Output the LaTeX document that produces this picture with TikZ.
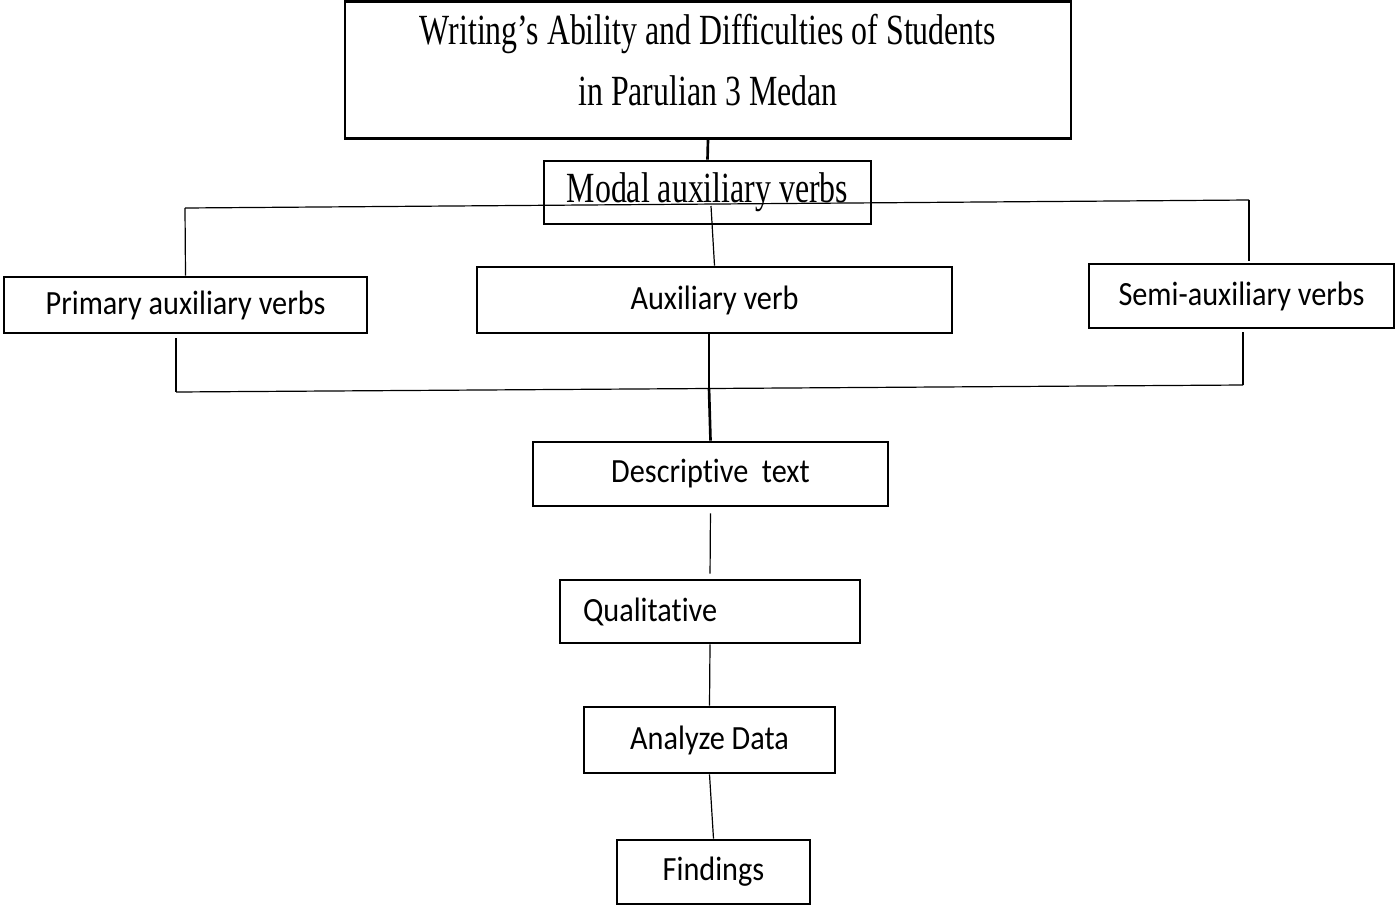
\documentclass[tikz,border=0pt]{standalone}
\usepackage{fontspec}
\usepackage{graphicx}
\usepackage{tikz}
\setmainfont{Liberation Serif}
\setsansfont{Carlito}[RawFeature=-liga,RawFeature=-clig,RawFeature=-calt,RawFeature=-dlig]
\usetikzlibrary{calc, positioning}

\newlength\pxu
\setlength\pxu{0.75pt}
\newcommand{\sertext}[1]{\scalebox{1}[1.35]{#1}}
\newcommand{\santext}[1]{\scalebox{1}[1.12]{#1}}

\begin{document}
\begin{tikzpicture}[-,x=0.75pt,y=-0.75pt,
                    box/.style={rectangle,draw,line width=2.1pt,inner sep=0pt},
                    serif node/.style={box,font=\fontsize{23.9}{45.75}\selectfont},
                    sans node/.style={box,font=\sffamily\fontsize{22.7}{27}\selectfont},
                    link/.style={line width=0.9pt},
                    trunk/.style={line width=2pt}]

 \useasboundingbox (0,0) rectangle (1395,907);

 \node[serif node,minimum width=726\pxu,minimum height=136\pxu] (title) at (708,70)
   {\begin{tabular}{c}\sertext{Writing’s Ability and Difficulties of Students}\\\sertext{in Parulian 3 Medan}\\[11pt]\end{tabular}};
 \node[serif node,minimum width=327\pxu,minimum height=63\pxu] (modal) at (707.5,192.5) {\sertext{Modal auxiliary verbs}};

 \node[sans node,minimum width=363\pxu,minimum height=56\pxu] (primary) at (185.5,305) {\santext{Primary auxiliary verbs}};
 \node[sans node,minimum width=475\pxu,minimum height=66\pxu] (aux) at (714.5,300) {\santext{Auxiliary verb}};
 \node[sans node,minimum width=305\pxu,minimum height=64\pxu] (semi) at (1241.5,296) {\santext{Semi-auxiliary verbs}};

 \node[sans node,minimum width=355\pxu,minimum height=64\pxu] (desc) at (710.5,474) {\santext{Descriptive\ \ text}};
 \node[sans node,minimum width=300\pxu,minimum height=63\pxu,inner xsep=23\pxu,text width=254\pxu,align=left] (qual) at (710,611.5) {\santext{Qualitative}};
 \node[sans node,minimum width=251\pxu,minimum height=66\pxu] (analyze) at (709.5,740) {\santext{Analyze Data}};
 \node[sans node,minimum width=193\pxu,minimum height=64\pxu] (find) at (713.5,872) {\santext{Findings}};

 % free ends of the two bars
 \coordinate (tl) at (185,208);
 \coordinate (tr) at (1249,200);
 \coordinate (tre) at (1249,261);
 \coordinate (tm) at (711,206);
 \coordinate (blt) at (176,338);
 \coordinate (bl) at (176,392);
 \coordinate (brt) at (1243,332);
 \coordinate (br) at (1243,385);
 \coordinate (bm) at (709,388);

 \path[trunk]
 (title.south) edge (modal.north)
 (bm) edge (desc.north);

 \path[link]
 (tl) edge (tr)
      edge (primary.north)
 (tr) edge (tre)
 (tm) edge (aux.north)
 (blt) edge (bl)
 (bl) edge (br)
 (brt) edge (br)
 (aux.south -| bm) edge (bm)
 (desc.south) edge[shorten <=6\pxu, shorten >=5\pxu] (qual.north)
 (qual.south) edge (analyze.north)
 (analyze.south) edge (find.north);

\end{tikzpicture}
\end{document}
